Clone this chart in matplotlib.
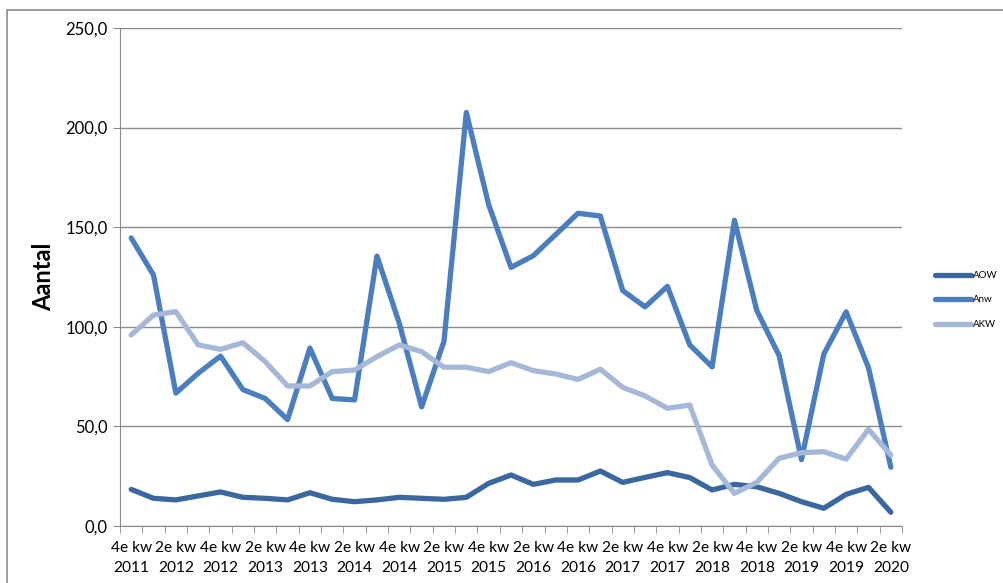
import matplotlib.pyplot as plt
from matplotlib.patches import Rectangle
import numpy as np

plt.rcParams['font.family'] = ['Lato', 'DejaVu Sans']

# quarters 4e kw 2011 .. 2e kw 2020
quarters = ["4e kw\n2011", "1e kw\n2012", "2e kw\n2012", "3e kw\n2012", "4e kw\n2012",
            "1e kw\n2013", "2e kw\n2013", "3e kw\n2013", "4e kw\n2013",
            "1e kw\n2014", "2e kw\n2014", "3e kw\n2014", "4e kw\n2014",
            "1e kw\n2015", "2e kw\n2015", "3e kw\n2015", "4e kw\n2015",
            "1e kw\n2016", "2e kw\n2016", "3e kw\n2016", "4e kw\n2016",
            "1e kw\n2017", "2e kw\n2017", "3e kw\n2017", "4e kw\n2017",
            "1e kw\n2018", "2e kw\n2018", "3e kw\n2018", "4e kw\n2018",
            "1e kw\n2019", "2e kw\n2019", "3e kw\n2019", "4e kw\n2019",
            "1e kw\n2020", "2e kw\n2020"]

aow = [18.4, 13.9, 13.1, 15.1, 17.1, 14.4, 13.9, 13.1, 16.7, 13.4, 12.2, 13.1,
       14.4, 13.9, 13.4, 14.4, 21.4, 25.6, 20.9, 23.1, 23.1, 27.6, 21.9, 24.4,
       26.8, 24.3, 18.1, 20.9, 19.7, 16.4, 12.2, 8.9, 15.9, 19.4, 6.9]
anw = [144.6, 126.0, 66.7, 76.7, 85.3, 68.5, 64.0, 53.4, 89.3, 64.0, 63.3, 135.5,
       101.8, 59.8, 92.7, 207.6, 161.3, 129.8, 135.7, 146.3, 157.0, 155.6, 118.2, 110.0,
       120.3, 90.9, 79.9, 153.5, 108.2, 85.6, 33.3, 86.3, 107.5, 79.5, 29.5]
akw = [95.9, 105.9, 107.6, 90.9, 88.7, 92.0, 82.5, 70.3, 70.3, 77.5, 78.3, 85.0,
       90.9, 87.5, 79.7, 79.7, 77.5, 82.0, 78.0, 76.3, 73.6, 78.7, 69.6, 65.3,
       59.1, 60.7, 30.6, 16.4, 21.9, 34.0, 36.8, 37.3, 33.6, 48.5, 35.6]

W, H = 1004, 583
fig = plt.figure(figsize=(W / 100, H / 100), dpi=100)
fig.patches.append(Rectangle((7 / W, -0.1), 1.2, 1 - 10 / H + 0.1, transform=fig.transFigure,
                             fill=False, edgecolor='#8c8c8c', linewidth=1.2))

ax = fig.add_axes([120 / W, (H - 526) / H, (902 - 120) / W, (526 - 28) / H])
x = np.arange(len(quarters))
ax.plot(x, aow, color='#3b67a0', lw=3.8, solid_capstyle='round', label='AOW')
ax.plot(x, anw, color='#4a7ebe', lw=3.8, solid_capstyle='round', label='Anw')
ax.plot(x, akw, color='#a6b8d8', lw=3.8, solid_capstyle='round', label='AKW')

ax.set_xlim(-0.5, len(quarters) - 0.5)
ax.set_ylim(0, 250)
ax.set_yticks(np.arange(0, 251, 50))
ax.set_yticklabels([f"{v:.1f}".replace('.', ',') for v in np.arange(0, 251, 50)], fontsize=12)
ax.yaxis.grid(True, color='#8c8c8c', lw=1)
ax.set_axisbelow(True)

ax.set_xticks(x[::2])
ax.set_xticklabels(quarters[::2], fontsize=11.2, linespacing=1.5)
ax.set_xticks(np.arange(-0.5, len(quarters), 1), minor=True)
ax.tick_params(axis='x', which='major', length=0, pad=11)
ax.tick_params(axis='x', which='minor', length=5, color='#8c8c8c')
ax.tick_params(axis='y', length=5, color='#8c8c8c', pad=4)

for s in ['top', 'right']:
    ax.spines[s].set_visible(False)
for s in ['left', 'bottom']:
    ax.spines[s].set_color('#8c8c8c')

ax.set_ylabel('Aantal', fontsize=17, fontweight='bold', labelpad=7)

fig.legend(loc='center left', bbox_to_anchor=(935 / W, 1 - 300 / H), frameon=False,
           fontsize=7, handlelength=3.7, labelspacing=1.6, handletextpad=0.2,
           borderpad=0, borderaxespad=0)

fig.savefig('out.png', dpi=100)
